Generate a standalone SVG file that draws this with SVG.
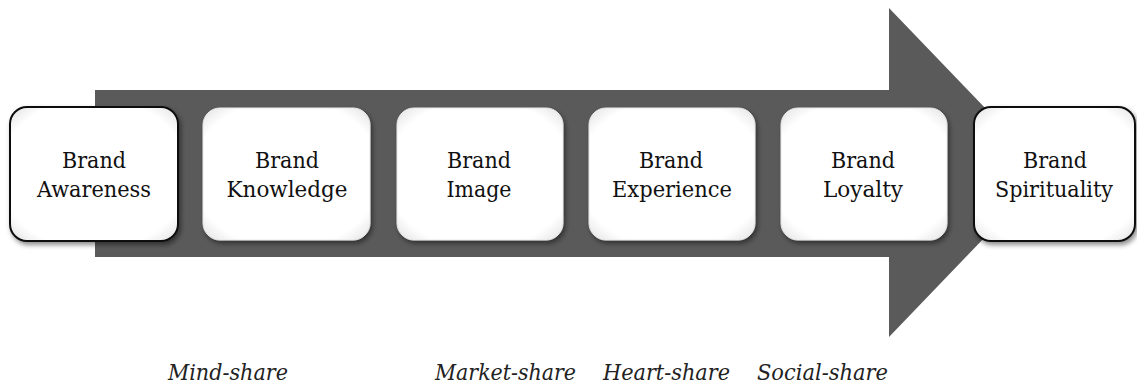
<svg xmlns="http://www.w3.org/2000/svg" width="1137" height="385" viewBox="0 0 1137 385">
<defs>
  <filter id="sh" x="-10%" y="-10%" width="125%" height="130%">
    <feDropShadow dx="2" dy="3" stdDeviation="2.5" flood-color="#000" flood-opacity="0.45"/>
  </filter>
  <radialGradient id="face" cx="0.5" cy="0.5" r="0.75">
    <stop offset="0.75" stop-color="#ffffff"/>
    <stop offset="1" stop-color="#d8d8d8"/>
  </radialGradient>
  <linearGradient id="hl" x1="0" y1="0" x2="0" y2="1">
    <stop offset="0" stop-color="#e0e0e0" stop-opacity="0"/>
    <stop offset="0.2" stop-color="#d0d0d0"/>
    <stop offset="0.8" stop-color="#d0d0d0"/>
    <stop offset="1" stop-color="#e0e0e0" stop-opacity="0"/>
  </linearGradient>
</defs>
<style>
  .box { fill: url(#face); filter: url(#sh); }
  .soft { stroke: #e8e8e8; stroke-width: 1; }
  .hard { stroke: #111; stroke-width: 2; }
  .hl { stroke: url(#hl); stroke-width: 2.5; fill: none; }
  text.t { font-family: "DejaVu Serif", "Liberation Serif", serif; font-size: 23px; fill: #111; text-anchor: middle; }
  text.s { font-family: "DejaVu Serif", "Liberation Serif", serif; font-size: 23px; font-style: italic; fill: #222; }
</style>
<rect width="1137" height="385" fill="#ffffff"/>
<g id="connectors">
  <path id="arrow" d="M95,90 L889,90 L889,8 L1047,172.5 L889,337 L889,257 L95,257 Z" fill="#5a5a5a"/>
</g>
<g id="n1">
  <rect class="box hard" x="10" y="107" width="168" height="134" rx="17"/>
  <line class="hl" x1="163" y1="125" x2="163" y2="225"/>
  <text class="t" x="94" y="168" textLength="64" lengthAdjust="spacingAndGlyphs">Brand</text>
  <text class="t" x="94" y="197" textLength="114" lengthAdjust="spacingAndGlyphs">Awareness</text>
</g>
<g id="n2">
  <rect class="box soft" x="203" y="108" width="167" height="132" rx="17"/>
  <line class="hl" x1="354" y1="125" x2="354" y2="225"/>
  <text class="t" x="287" y="168" textLength="64" lengthAdjust="spacingAndGlyphs">Brand</text>
  <text class="t" x="287" y="197" textLength="121" lengthAdjust="spacingAndGlyphs">Knowledge</text>
</g>
<g id="n3">
  <rect class="box soft" x="397" y="108" width="166" height="132" rx="17"/>
  <line class="hl" x1="547" y1="125" x2="547" y2="225"/>
  <text class="t" x="479" y="168" textLength="64" lengthAdjust="spacingAndGlyphs">Brand</text>
  <text class="t" x="479" y="197" textLength="65" lengthAdjust="spacingAndGlyphs">Image</text>
</g>
<g id="n4">
  <rect class="box soft" x="589" y="108" width="166" height="132" rx="17"/>
  <line class="hl" x1="739" y1="125" x2="739" y2="225"/>
  <text class="t" x="671" y="168" textLength="64" lengthAdjust="spacingAndGlyphs">Brand</text>
  <text class="t" x="672" y="197" textLength="120" lengthAdjust="spacingAndGlyphs">Experience</text>
</g>
<g id="n5">
  <rect class="box soft" x="781" y="108" width="166" height="132" rx="17"/>
  <line class="hl" x1="931" y1="125" x2="931" y2="225"/>
  <text class="t" x="863" y="168" textLength="64" lengthAdjust="spacingAndGlyphs">Brand</text>
  <text class="t" x="863" y="197" textLength="80" lengthAdjust="spacingAndGlyphs">Loyalty</text>
</g>
<g id="n6">
  <rect class="box hard" x="974" y="107" width="161" height="134" rx="17"/>
  <line class="hl" x1="1122" y1="125" x2="1122" y2="225"/>
  <text class="t" x="1055" y="168" textLength="64" lengthAdjust="spacingAndGlyphs">Brand</text>
  <text class="t" x="1054" y="197" textLength="118" lengthAdjust="spacingAndGlyphs">Spirituality</text>
</g>
<g id="shares">
  <text class="s" x="168" y="380" textLength="120" lengthAdjust="spacingAndGlyphs">Mind-share</text>
  <text class="s" x="435" y="380" textLength="141" lengthAdjust="spacingAndGlyphs">Market-share</text>
  <text class="s" x="603" y="380" textLength="127" lengthAdjust="spacingAndGlyphs">Heart-share</text>
  <text class="s" x="757" y="380" textLength="131" lengthAdjust="spacingAndGlyphs">Social-share</text>
</g>
</svg>
